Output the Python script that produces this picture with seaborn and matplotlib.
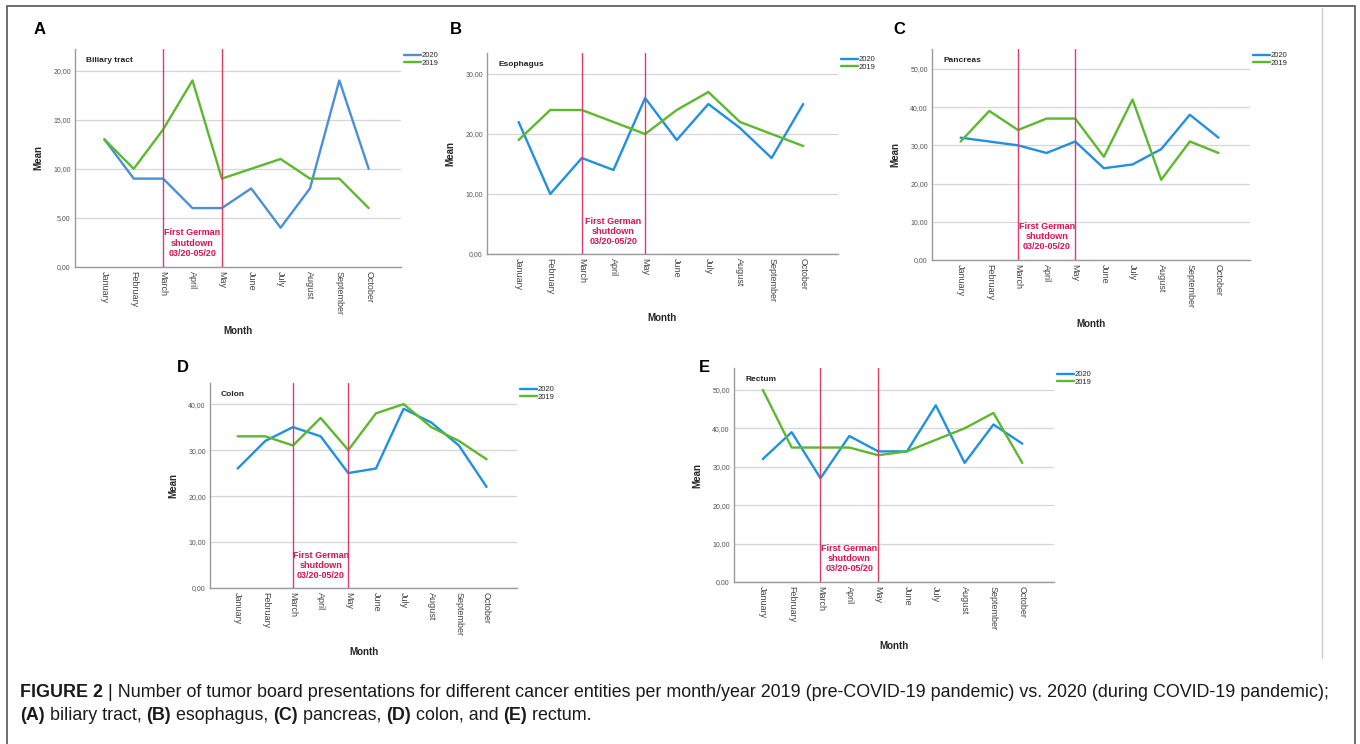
"""
Figure 2 - tumor board presentations per month, 2019 vs 2020.
Five panels (biliary tract, esophagus, pancreas, colon, rectum).
"""

import matplotlib
matplotlib.use("Agg")
import matplotlib.pyplot as plt
import seaborn as sns
import pandas as pd
from matplotlib.patches import Rectangle
from matplotlib.lines import Line2D
from matplotlib.ticker import FuncFormatter
from matplotlib.transforms import blended_transform_factory

# ---- data -----------------------------------------------------------------
months = ["January", "February", "March", "April", "May",
          "June", "July", "August", "September", "October"]
years = ["2020", "2019"]

biliary_2020 = [13, 9, 9, 6, 6, 8, 4, 8, 19, 10]
biliary_2019 = [13, 10, 14, 19, 9, 10, 11, 9, 9, 6]

esophagus_2020 = [22, 10, 16, 14, 26, 19, 25, 21, 16, 25]
esophagus_2019 = [19, 24, 24, 22, 20, 24, 27, 22, 20, 18]

pancreas_2020 = [32, 31, 30, 28, 31, 24, 25, 29, 38, 32]
pancreas_2019 = [31, 39, 34, 37, 37, 27, 42, 21, 31, 28]

colon_2020 = [26, 32, 35, 33, 25, 26, 39, 36, 31, 22]
colon_2019 = [33, 33, 31, 37, 30, 38, 40, 35, 32, 28]

rectum_2020 = [32, 39, 27, 38, 34, 34, 46, 31, 41, 36]
rectum_2019 = [50, 35, 35, 35, 33, 34, 37, 40, 44, 31]

shutdown_months = ["March", "May"]
shutdown_text = "First German\nshutdown\n03/20-05/20"

caption_line1 = [("FIGURE 2", True),
                 (" | Number of tumor board presentations for different cancer entities "
                  "per month/year 2019 (pre-COVID-19 pandemic) vs. 2020 (during COVID-19 pandemic);", False)]
caption_line2 = [("(A)", True), (" biliary tract, ", False), ("(B)", True), (" esophagus, ", False),
                 ("(C)", True), (" pancreas, ", False), ("(D)", True), (" colon, and ", False),
                 ("(E)", True), (" rectum.", False)]

# ---- layout / style -------------------------------------------------------
W, H = 1360, 744
BLUE = "#2090e0"
BLUE_A = "#4a90d8"
GREEN = "#5cb82e"
RED = "#dc3c6a"
RED_TXT = "#d81452"
GRID = "#d6d6d6"
SPINE = "#9a9a9a"

# letter, title, 2020, 2019, yticks, ytop, axes box in px (left, top, right, bottom), letter pos px, blue
panels = [
    ("A", "Biliary tract", biliary_2020, biliary_2019, [0, 5, 10, 15, 20], 22.2, (75, 49, 401, 267), (40, 30), BLUE_A),
    ("B", "Esophagus", esophagus_2020, esophagus_2019, [0, 10, 20, 30], 33.5, (487, 53, 838, 254), (456, 30), BLUE),
    ("C", "Pancreas", pancreas_2020, pancreas_2019, [0, 10, 20, 30, 40, 50], 55.2, (932, 49, 1250, 260), (899, 30), BLUE),
    ("D", "Colon", colon_2020, colon_2019, [0, 10, 20, 30, 40], 44.6, (210, 383, 517, 588), (183, 367), BLUE),
    ("E", "Rectum", rectum_2020, rectum_2019, [0, 10, 20, 30, 40, 50], 55.7, (734, 368, 1054, 582), (704, 367), BLUE),
]

sns.set_theme(style="white")
plt.rcParams["font.family"] = ["Liberation Sans", "DejaVu Sans"]

fig = plt.figure(figsize=(W / 100, H / 100), dpi=100)


def draw_panel(title, v2020, v2019, yticks, ytop, box, blue):
    left, top, right, bottom = box
    ax = fig.add_axes([left / W, 1 - bottom / H, (right - left) / W, (bottom - top) / H])

    df = pd.DataFrame({
        "Month": months * 2,
        "Mean": v2020 + v2019,
        "Year": [years[0]] * len(months) + [years[1]] * len(months),
    })
    sns.lineplot(data=df, x="Month", y="Mean", hue="Year", hue_order=years,
                 palette={"2020": blue, "2019": GREEN}, sort=False,
                 linewidth=1.7, ax=ax)

    ax.set_xlim(-1, len(months) + 0.1)
    ax.set_ylim(0, ytop)
    ax.set_yticks(yticks)
    ax.yaxis.set_major_formatter(FuncFormatter(lambda v, p: f"{v:.2f}".replace(".", ",")))
    ax.yaxis.grid(True, color=GRID, lw=0.9)
    ax.set_axisbelow(True)

    for s in ["top", "right"]:
        ax.spines[s].set_visible(False)
    for s in ["left", "bottom"]:
        ax.spines[s].set_color(SPINE)
        ax.spines[s].set_linewidth(1.0)

    ax.tick_params(axis="x", rotation=-90, length=0, labelsize=6.5, labelcolor="#444444", pad=3)
    ax.tick_params(axis="y", length=0, labelsize=5, labelcolor="#555555", pad=3)

    ax.set_xlabel("Month", fontsize=7, fontweight="bold", labelpad=8)
    ax.set_ylabel("Mean", fontsize=7, fontweight="bold", labelpad=7)

    # shutdown period
    for m in shutdown_months:
        ax.axvline(months.index(m), color=RED, lw=1.0, zorder=3)
    mid = (months.index(shutdown_months[0]) + months.index(shutdown_months[1])) / 2
    trans = blended_transform_factory(ax.transData, ax.transAxes)
    ax.text(mid, 0.11, shutdown_text, transform=trans, ha="center", va="center",
            fontsize=6.5, fontweight="bold", color=RED_TXT, linespacing=1.15)

    ax.annotate(title, xy=(0, 1), xycoords="axes fraction", xytext=(8, -8),
                textcoords="offset points", fontsize=6, fontweight="bold",
                ha="left", va="center", color="#222222")

    handles, labels = ax.get_legend_handles_labels()
    ax.legend(handles, labels, loc="upper left", bbox_to_anchor=(1.0, 1.0),
              frameon=False, fontsize=5.5, handlelength=2.2, handletextpad=0.1,
              labelspacing=0.05, borderaxespad=0.2, borderpad=0.2)
    return ax


for letter, title, v20, v19, yt, ytop, box, lpos, blue in panels:
    draw_panel(title, v20, v19, yt, ytop, box, blue)
    fig.text(lpos[0] / W, 1 - lpos[1] / H, letter, fontsize=12, fontweight="bold",
             ha="center", va="center", color="black")

# frame and divider
fig.add_artist(Rectangle((7 / W, -0.05), (1355 - 7) / W, 1.05 - 6 / H, fill=False,
                         edgecolor="#555555", lw=1.2, transform=fig.transFigure))
fig.add_artist(Line2D([1322 / W, 1322 / W], [1 - 8 / H, 1 - 658 / H],
                      color="#cccccc", lw=1.0, transform=fig.transFigure))

# caption with bold parts
renderer = fig.canvas.get_renderer()
CAP_FONT = ["Liberation Sans", "DejaVu Sans"]


def rich_line(parts, x_px, y_px, size):
    x = x_px
    for s, bold in parts:
        t = fig.text(x / W, 1 - y_px / H, s, fontsize=size, family=CAP_FONT,
                     fontweight="bold" if bold else "normal", ha="left",
                     va="baseline", color="#1a1a1a")
        x += t.get_window_extent(renderer).width


rich_line(caption_line1, 20, 697, 12.9)
rich_line(caption_line2, 20, 720, 12.9)

fig.savefig("out.png", dpi=100)
